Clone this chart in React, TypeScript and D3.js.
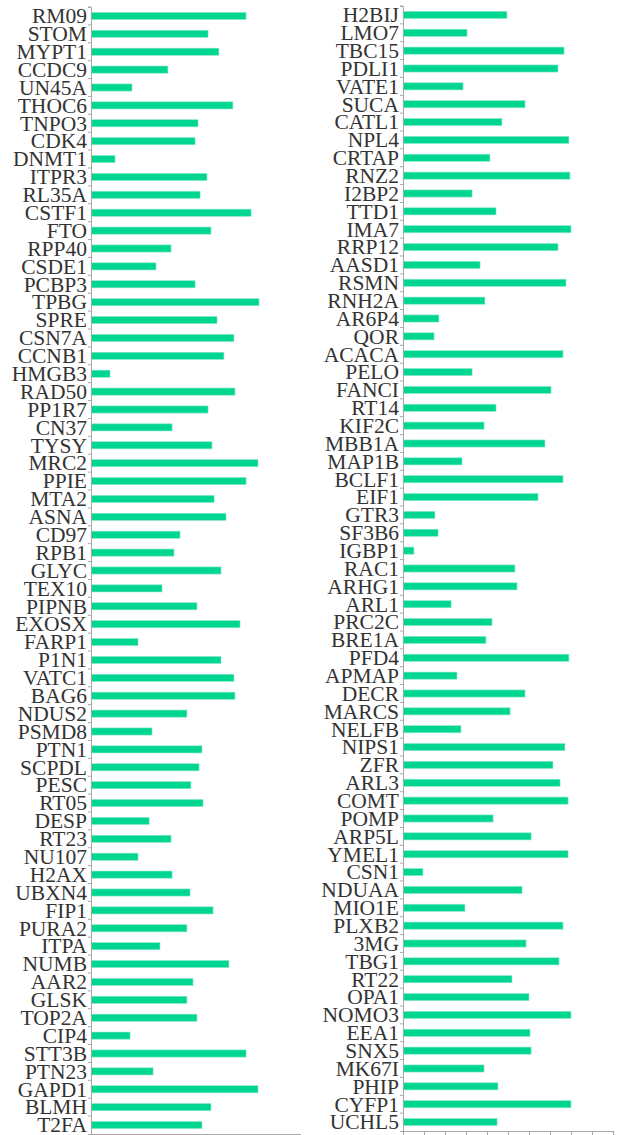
import { useEffect, useRef } from 'react';
import * as d3 from 'd3';

const leftNames = [
  'RM09', 'STOM', 'MYPT1', 'CCDC9', 'UN45A', 'THOC6', 'TNPO3', 'CDK4', 'DNMT1', 'ITPR3',
  'RL35A', 'CSTF1', 'FTO', 'RPP40', 'CSDE1', 'PCBP3', 'TPBG', 'SPRE', 'CSN7A', 'CCNB1',
  'HMGB3', 'RAD50', 'PP1R7', 'CN37', 'TYSY', 'MRC2', 'PPIE', 'MTA2', 'ASNA', 'CD97',
  'RPB1', 'GLYC', 'TEX10', 'PIPNB', 'EXOSX', 'FARP1', 'P1N1', 'VATC1', 'BAG6', 'NDUS2',
  'PSMD8', 'PTN1', 'SCPDL', 'PESC', 'RT05', 'DESP', 'RT23', 'NU107', 'H2AX', 'UBXN4',
  'FIP1', 'PURA2', 'ITPA', 'NUMB', 'AAR2', 'GLSK', 'TOP2A', 'CIP4', 'STT3B', 'PTN23',
  'GAPD1', 'BLMH', 'T2FA',
];
const leftValues = [
  7.42, 5.6, 6.12, 3.68, 1.96, 6.79, 5.12, 4.98, 1.15, 5.55,
  5.22, 7.66, 5.74, 3.83, 3.11, 4.98, 8.04, 6.03, 6.84, 6.36,
  0.91, 6.89, 5.6, 3.88, 5.79, 7.99, 7.42, 5.89, 6.46, 4.26,
  3.97, 6.22, 3.4, 5.07, 7.13, 2.25, 6.22, 6.84, 6.89, 4.59,
  2.92, 5.31, 5.17, 4.78, 5.36, 2.78, 3.83, 2.25, 3.88, 4.74,
  5.84, 4.59, 3.3, 6.6, 4.88, 4.59, 5.07, 1.87, 7.42, 2.97,
  7.99, 5.74, 5.31,
];

const rightNames = [
  'H2BIJ', 'LMO7', 'TBC15', 'PDLI1', 'VATE1', 'SUCA', 'CATL1', 'NPL4', 'CRTAP', 'RNZ2',
  'I2BP2', 'TTD1', 'IMA7', 'RRP12', 'AASD1', 'RSMN', 'RNH2A', 'AR6P4', 'QOR', 'ACACA',
  'PELO', 'FANCI', 'RT14', 'KIF2C', 'MBB1A', 'MAP1B', 'BCLF1', 'EIF1', 'GTR3', 'SF3B6',
  'IGBP1', 'RAC1', 'ARHG1', 'ARL1', 'PRC2C', 'BRE1A', 'PFD4', 'APMAP', 'DECR', 'MARCS',
  'NELFB', 'NIPS1', 'ZFR', 'ARL3', 'COMT', 'POMP', 'ARP5L', 'YMEL1', 'CSN1', 'NDUAA',
  'MIO1E', 'PLXB2', '3MG', 'TBG1', 'RT22', 'OPA1', 'NOMO3', 'EEA1', 'SNX5', 'MK67I',
  'PHIP', 'CYFP1', 'UCHL5',
];
const rightValues = [
  4.95, 3.05, 7.67, 7.38, 2.86, 5.81, 4.71, 7.9, 4.14, 7.95,
  3.29, 4.43, 8.0, 7.38, 3.67, 7.76, 3.9, 1.71, 1.48, 7.62,
  3.29, 7.05, 4.43, 3.86, 6.76, 2.81, 7.62, 6.43, 1.52, 1.67,
  0.52, 5.33, 5.43, 2.29, 4.24, 3.95, 7.9, 2.57, 5.81, 5.1,
  2.76, 7.71, 7.14, 7.48, 7.86, 4.29, 6.1, 7.86, 0.95, 5.67,
  2.95, 7.62, 5.86, 7.43, 5.19, 6.0, 8.0, 6.05, 6.1, 3.86,
  4.52, 8.0, 4.48,
];

const xTicks = d3.range(0, 11);

const W = 637;
const H = 1135;
const BAR = '#00d692';
const AXIS = '#a8a8a8';

interface Panel {
  names: string[];
  values: number[];
  x0: number;
  x1: number;
  y0: number;
  y1: number;
}

const panels: Panel[] = [
  { names: leftNames, values: leftValues, x0: 91, x1: 300, y0: 7, y1: 1134 },
  { names: rightNames, values: rightValues, x0: 403, x1: 613, y0: 6, y1: 1131 },
];

export default function App() {
  const svgRef = useRef<SVGSVGElement>(null);

  useEffect(() => {
    if (!svgRef.current) return;
    const svg = d3.select(svgRef.current);
    svg.selectAll('*').remove();

    panels.forEach((p) => {
      const x = d3.scaleLinear().domain([0, 10]).range([p.x0, p.x1]);
      const y = d3.scaleBand<string>().domain(p.names).range([p.y0, p.y1]).paddingInner(0.6).paddingOuter(0.3);
      const g = svg.append('g');

      // bars
      g.selectAll('rect')
        .data(p.names)
        .join('rect')
        .attr('x', x(0))
        .attr('y', (d) => y(d)!)
        .attr('width', (_, i) => x(p.values[i]) - x(0))
        .attr('height', y.bandwidth())
        .attr('fill', BAR)
        .attr('stroke', '#8fe9c8')
        .attr('stroke-width', 0.6);

      // left axis
      const yAxis = g.append('g')
        .attr('transform', `translate(${p.x0},0)`)
        .call(d3.axisLeft(y).tickSize(3).tickPadding(1));
      yAxis.select('.domain').attr('stroke', AXIS);
      yAxis.selectAll('.tick line').attr('stroke', AXIS).attr('transform', `translate(0,${-y.step() / 2})`);
      yAxis.selectAll('.tick text')
        .attr('fill', '#333')
        .attr('font-family', '"Liberation Serif", "Times New Roman", serif')
        .attr('font-size', 21.5)
        .attr('dy', '0.34em');

      // bottom axis
      const xAxis = g.append('g')
        .attr('transform', `translate(0,${p.y1})`)
        .call(d3.axisBottom(x).tickValues(xTicks).tickSize(4).tickFormat(() => ''));
      xAxis.select('.domain').attr('stroke', AXIS);
      xAxis.selectAll('.tick line').attr('stroke', AXIS);
    });
  }, []);

  return (
    <div style={{ position: 'absolute', left: 0, top: 0, width: W, height: H, background: '#fff' }}>
      <svg ref={svgRef} width={W} height={H} />
    </div>
  );
}
